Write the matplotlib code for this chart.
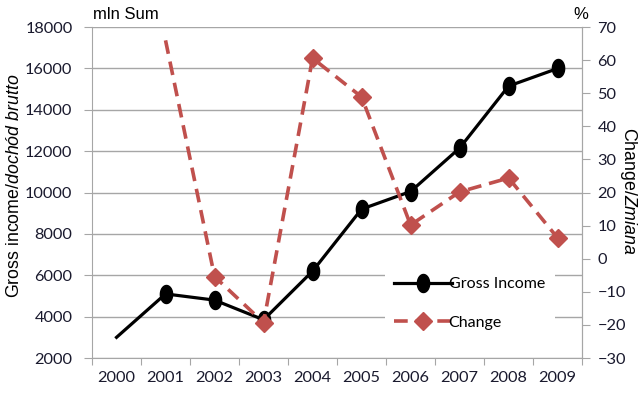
import numpy as np
import matplotlib.pyplot as plt
from matplotlib.legend_handler import HandlerLine2D

plt.rcParams['mathtext.fontset'] = 'custom'
plt.rcParams['mathtext.rm'] = 'Liberation Sans'
plt.rcParams['mathtext.it'] = 'Liberation Sans:italic'

years = ['2000', '2001', '2002', '2003', '2004', '2005', '2006', '2007', '2008', '2009']
gross_income = [3000, 5100, 4800, 3850, 6200, 9200, 10050, 12150, 15150, 16000]
change = [np.nan, 66, -5.4, -19.3, 60.6, 48.9, 10.2, 20.2, 24.4, 6.3]

red = '#C0504D'
grid_col = '#A6A6A6'
tick_font = 'Lato'

# tall oval marker for the income series
t = np.linspace(0, 2 * np.pi, 40)
oval = np.column_stack([0.68 * np.cos(t), np.sin(t)])


class EndMarker(HandlerLine2D):
    # legend handle with the marker sitting at the right end of the line
    def get_xdata(self, legend, xdescent, ydescent, width, height, fontsize):
        xdata = np.array([-xdescent, -xdescent + width])
        return xdata, xdata[-1:]


fig = plt.figure(figsize=(6.39, 3.93), dpi=100)
ax = fig.add_axes([0.144, 0.089, 0.767, 0.842])
ax2 = ax.twinx()

x = np.arange(len(years))
l1, = ax.plot(x, gross_income, color='black', lw=2.3, marker=oval, ms=13,
              markevery=list(range(1, len(years))), zorder=3)
l2, = ax2.plot(x, change, color=red, lw=2.6, ls=(0, (3.8, 2.2)), marker='D', ms=9.5,
               markevery=list(range(2, len(years))), zorder=3)

ax.set_xlim(-0.5, len(years) - 0.5)
ax.set_ylim(2000, 18000)
ax.set_yticks(np.arange(2000, 18001, 2000))
ax2.set_ylim(-30, 70)
ax2.set_yticks(np.arange(-30, 71, 10))

ax.set_xticks(np.arange(-0.5, len(years)), labels=[])
ax.set_xticks(x, labels=years, minor=True)
ax.tick_params(axis='x', which='major', length=5, color=grid_col)
ax.tick_params(axis='x', which='minor', length=0, pad=9)
ax.tick_params(axis='y', length=6, color=grid_col, pad=8)
ax2.tick_params(axis='y', length=6, color=grid_col, pad=5)

for lab in ax.get_xticklabels(minor=True) + ax.get_yticklabels() + ax2.get_yticklabels():
    lab.set_fontfamily(tick_font)
    lab.set_fontsize(11.8)
    lab.set_color('#1a1a2e')

ax.yaxis.grid(True, color=grid_col, lw=1)
ax.set_axisbelow(True)
for a in (ax, ax2):
    a.spines['top'].set_visible(False)
    for s in ('left', 'right', 'bottom'):
        a.spines[s].set_color(grid_col)
ax2.spines['left'].set_visible(False)
ax2.spines['bottom'].set_visible(False)

ax.set_ylabel('Gross income/$\\mathit{doch\u00f3d\\ brutto}$', fontsize=12.8,
              family='Liberation Sans', ha='center', va='center')
ax.yaxis.set_label_coords(-0.159, 0.52)
ax2.set_ylabel('Change/$\\mathit{Zmiana}$', fontsize=12.8, family='Liberation Sans',
               rotation=270, ha='center', va='center')
ax2.yaxis.set_label_coords(1.095, 0.505)

fig.text(0.146, 0.945, 'mln Sum', fontsize=12, family='Liberation Sans', va='bottom')
fig.text(0.909, 0.945, '%', fontsize=12, family='Liberation Sans', va='bottom', ha='center')

leg = fig.legend([l1, l2], ['Gross Income', 'Change'], loc='center',
                 bbox_to_anchor=(0.735, 0.228), frameon=True, fancybox=False,
                 facecolor='white', edgecolor='none', framealpha=1,
                 handlelength=3.6, handletextpad=-0.2, labelspacing=1.5,
                 borderpad=0.6, prop={'family': tick_font, 'size': 11.5},
                 handler_map={l1: EndMarker(), l2: EndMarker()})
leg.set_zorder(5)

fig.savefig('out.png', dpi=100)
